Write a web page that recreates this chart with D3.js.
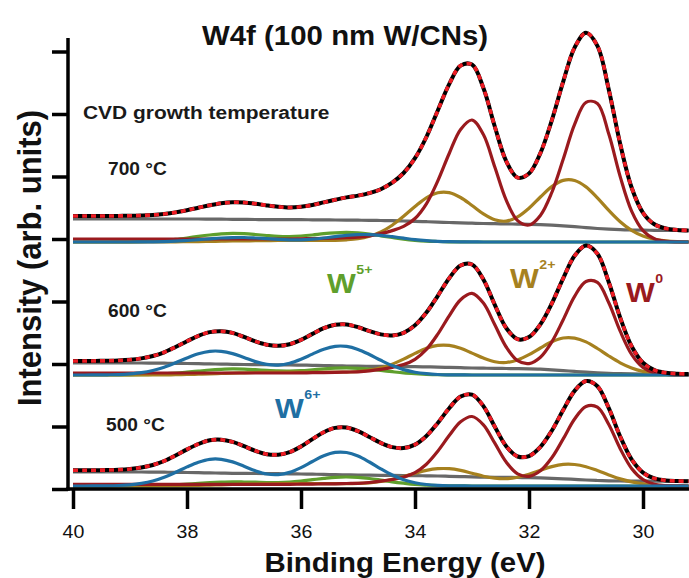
<!DOCTYPE html>
<html>
<head>
<meta charset="utf-8">
<script src="https://cdn.jsdelivr.net/npm/d3@7/dist/d3.min.js"></script>
<style>
  body { margin: 0; background: #fff; }
  svg { display: block; font-family: "Liberation Sans", Arial, sans-serif; }
</style>
</head>
<body>
<svg id="chart" width="689" height="578"></svg>
<script>
// Binding energy grid (eV), 0.2 eV steps
const energy = [40.0, 39.8, 39.6, 39.4, 39.2, 39.0, 38.8, 38.6, 38.4, 38.2,
  38.0, 37.8, 37.6, 37.4, 37.2, 37.0, 36.8, 36.6, 36.4, 36.2,
  36.0, 35.8, 35.6, 35.4, 35.2, 35.0, 34.8, 34.6, 34.4, 34.2,
  34.0, 33.8, 33.6, 33.4, 33.2, 33.0, 32.8, 32.6, 32.4, 32.2,
  32.0, 31.8, 31.6, 31.4, 31.2, 31.0, 30.8, 30.6, 30.4, 30.2,
  30.0, 29.8, 29.6, 29.4, 29.2];

const xTicks = [40, 38, 36, 34, 32, 30];
const yTicks = [0, 62.5, 125, 187.5, 250, 312.5, 375, 437.5];

const temperatures = ["700 °C", "600 °C", "500 °C"];
const stackOffsets = [247, 114, 3];

// ---- 700 °C ----
const int700 = [26.0, 26.0, 26.0, 26.0, 26.1, 26.2, 26.5, 27.0, 28.0, 29.6,
  31.8, 34.3, 36.7, 38.7, 39.7, 39.5, 38.3, 36.6, 35.2, 34.5,
  35.2, 37.0, 39.6, 42.2, 44.6, 46.4, 48.9, 52.8, 59.3, 69.0,
  83.8, 105.0, 131.5, 157.9, 176.4, 177.4, 154.0, 115.5, 80.9, 64.4,
  68.5, 88.9, 121.7, 160.4, 194.4, 209.2, 196.1, 152.3, 98.0, 54.5,
  29.2, 17.7, 13.5, 12.1, 11.6];
const bg700 = [23, 23, 23, 23, 23, 23, 23, 23, 23, 23,
  23, 23.0, 22.9, 22.8, 22.7, 22.6, 22.5, 22.4, 22.4, 22.3,
  22.3, 22.2, 22.1, 22.0, 21.9, 21.8, 21.7, 21.5, 21.3, 21.0,
  20.7, 20.3, 19.9, 19.5, 19.1, 18.8, 18.5, 18.3, 18.1, 17.9,
  17.7, 17.3, 16.8, 16.1, 15.3, 14.4, 13.5, 12.8, 12.3, 12.0,
  11.8, 11.7, 11.6, 11.6, 11.5];
const w0_700 = [3, 3, 3, 3, 3, 3, 3, 3, 3, 3,
  3, 3, 3, 3, 3, 3, 3, 3, 3, 3,
  3.2, 3.4, 3.6, 3.9, 4.3, 4.8, 6.1, 8.4, 11.4, 15.6,
  23.5, 38.2, 61.1, 88.5, 112.6, 122.0, 107.4, 75.0, 41.9, 21.4,
  17.0, 26.6, 49.5, 82.7, 117.6, 139.7, 138.5, 107.9, 65.4, 30.9,
  11.4, 3.2, 0.7, 0.1, 0];
const w2_700 = [0, 0, 0, 0, 0, 0, 0, 0, 0, 0.2,
  0.3, 0.4, 0.6, 0.8, 1.0, 1.1, 1.3, 1.4, 1.5, 1.5,
  1.5, 1.5, 1.6, 1.7, 2.2, 3.3, 5.8, 10.1, 16.8, 25.7,
  35.5, 44.2, 49.3, 49.4, 44.5, 36.5, 28.1, 22.2, 20.9, 25.1,
  33.8, 45.0, 55.4, 61.6, 61.5, 55.1, 44.1, 31.6, 20.3, 11.6,
  6.0, 2.8, 1.2, 0.4, 0.1];
const w5_700 = [0, 0, 0, 0, 0.1, 0.2, 0.4, 0.8, 1.6, 2.6,
  4.0, 5.6, 7.0, 8.1, 8.6, 8.3, 7.5, 6.5, 5.7, 5.5,
  6.0, 7.0, 8.3, 9.2, 9.6, 9.1, 7.9, 6.2, 4.5, 2.9,
  1.7, 0.9, 0.5, 0.2, 0.1, 0, 0, 0, 0, 0,
  0, 0, 0, 0, 0, 0, 0, 0, 0, 0,
  0, 0, 0, 0, 0];
const w6_700 = [0, 0, 0, 0, 0, 0, 0.1, 0.2, 0.4, 0.8,
  1.5, 2.3, 3.2, 4.0, 4.4, 4.5, 4.0, 3.3, 2.6, 2.2,
  2.2, 2.9, 4.0, 5.4, 6.6, 7.4, 7.4, 6.6, 5.3, 3.8,
  2.4, 1.4, 0.7, 0.3, 0.1, 0.1, 0, 0, 0, 0,
  0, 0, 0, 0, 0, 0, 0, 0, 0, 0,
  0, 0, 0, 0, 0];

// ---- 600 °C ----
const int600 = [14.0, 14.0, 14.1, 14.2, 14.5, 15.2, 16.6, 19.0, 22.7, 28.0,
  33.8, 39.2, 42.9, 43.8, 42.1, 38.1, 33.6, 30.3, 29.2, 30.8,
  35.1, 41.1, 46.8, 50.2, 50.6, 47.8, 43.9, 40.6, 39.6, 42.2,
  49.7, 62.4, 79.2, 96.8, 109.5, 110.5, 95.6, 70.1, 47.0, 35.8,
  37.9, 50.6, 71.5, 96.7, 119.2, 129.4, 121.3, 92.8, 57.3, 28.8,
  12.2, 4.8, 2.2, 1.3, 1.1];
const bg600 = [12, 12, 12, 12, 12, 12, 12, 11.9, 11.8, 11.7,
  11.5, 11.3, 11.1, 10.9, 10.7, 10.5, 10.4, 10.3, 10.2, 10.1,
  9.9, 9.7, 9.5, 9.2, 9.0, 8.8, 8.7, 8.6, 8.5, 8.4,
  8.3, 8.1, 7.9, 7.6, 7.3, 7.0, 6.8, 6.6, 6.5, 6.4,
  6.2, 5.8, 5.2, 4.4, 3.6, 2.8, 2.1, 1.6, 1.3, 1.1,
  1, 1, 1, 1, 1];
const w0_600 = [2, 2, 2, 2, 2, 2, 2, 2, 2, 2,
  2, 2, 2, 2, 2, 2, 2, 2, 2, 2,
  2.1, 2.3, 2.4, 2.6, 2.9, 3.2, 4.1, 5.6, 7.6, 10.4,
  15.7, 25.6, 40.9, 59.2, 75.3, 81.6, 71.9, 50.2, 28.0, 14.3,
  11.4, 17.8, 33.1, 55.3, 78.7, 93.5, 92.7, 72.2, 43.8, 20.7,
  7.6, 2.1, 0.5, 0.1, 0];
const w2_600 = [0, 0, 0, 0, 0, 0, 0, 0, 0, 0.3,
  0.5, 0.8, 1.1, 1.5, 1.9, 2.2, 2.5, 2.8, 3.0, 3.0,
  3.0, 3.0, 3.0, 2.9, 3.0, 3.5, 4.8, 7.1, 10.8, 15.9,
  21.6, 26.7, 29.6, 29.6, 26.7, 21.9, 16.9, 13.3, 12.5, 15.1,
  20.3, 27.0, 33.2, 37.0, 36.9, 33.1, 26.5, 19.0, 12.2, 7.0,
  3.6, 1.7, 0.7, 0.2, 0.1];
const w5_600 = [0, 0, 0, 0, 0.1, 0.1, 0.3, 0.6, 1.1, 1.8,
  2.8, 3.9, 5.0, 5.7, 6.1, 5.9, 5.3, 4.6, 4.1, 4.0,
  4.4, 5.2, 6.1, 6.8, 7.1, 6.7, 5.8, 4.6, 3.3, 2.1,
  1.3, 0.7, 0.3, 0.2, 0.1, 0, 0, 0, 0, 0,
  0, 0, 0, 0, 0, 0, 0, 0, 0, 0,
  0, 0, 0, 0, 0];
const w6_600 = [0, 0, 0.1, 0.2, 0.4, 1.1, 2.3, 4.5, 7.8, 12.2,
  17.0, 21.2, 23.7, 23.7, 21.4, 17.5, 13.4, 10.6, 9.9, 11.7,
  15.7, 20.9, 25.8, 28.7, 28.6, 25.6, 20.5, 14.7, 9.4, 5.4,
  2.8, 1.3, 0.5, 0.2, 0.1, 0, 0, 0, 0, 0,
  0, 0, 0, 0, 0, 0, 0, 0, 0, 0,
  0, 0, 0, 0, 0];

// ---- 500 °C ----
const int500 = [15.7, 15.7, 15.8, 15.9, 16.2, 17.0, 18.5, 21.0, 25.0, 30.5,
  36.6, 42.0, 45.7, 46.3, 44.1, 39.8, 35.2, 31.8, 31.3, 33.9,
  39.6, 46.9, 53.8, 58.1, 58.4, 54.8, 49.0, 43.1, 38.9, 38.0,
  41.4, 50.0, 63.1, 77.8, 89.4, 91.4, 79.9, 59.3, 39.8, 29.5,
  29.9, 39.1, 55.3, 75.9, 95.1, 104.9, 99.8, 77.8, 49.4, 26.6,
  13.4, 7.6, 5.6, 5.0, 4.8];
const bg500 = [14, 14, 14, 14, 14, 14, 14, 13.9, 13.8, 13.7,
  13.5, 13.3, 13.1, 12.9, 12.7, 12.6, 12.5, 12.4, 12.3, 12.2,
  12.0, 11.8, 11.6, 11.3, 11.1, 10.9, 10.8, 10.7, 10.6, 10.5,
  10.4, 10.2, 10.0, 9.7, 9.4, 9.1, 8.9, 8.7, 8.6, 8.5,
  8.4, 8.1, 7.7, 7.2, 6.6, 6.0, 5.5, 5.2, 5.0, 4.9,
  4.8, 4.8, 4.8, 4.8, 4.8];
const w0_500 = [1.7, 1.7, 1.7, 1.7, 1.7, 1.7, 1.7, 1.7, 1.7, 1.7,
  1.7, 1.7, 1.7, 1.7, 1.7, 1.7, 1.7, 1.7, 1.7, 1.7,
  1.8, 1.9, 2.1, 2.2, 2.5, 2.7, 3.5, 4.8, 6.5, 8.9,
  13.4, 21.8, 34.8, 50.4, 64.2, 69.5, 61.2, 42.8, 23.9, 12.2,
  9.7, 15.2, 28.2, 47.1, 67.0, 79.6, 78.9, 61.5, 37.3, 17.6,
  6.5, 1.8, 0.4, 0.1, 0];
const w2_500 = [0, 0, 0, 0, 0, 0, 0, 0, 0, 0.2,
  0.4, 0.6, 0.9, 1.2, 1.5, 1.8, 2.0, 2.2, 2.4, 2.4,
  2.4, 2.4, 2.3, 2.3, 2.3, 2.6, 3.2, 4.5, 6.6, 9.5,
  12.7, 15.6, 17.3, 17.3, 15.6, 12.8, 9.8, 7.8, 7.3, 8.8,
  11.8, 15.8, 19.4, 21.6, 21.5, 19.3, 15.4, 11.1, 7.1, 4.1,
  2.1, 1.0, 0.4, 0.1, 0];
const w5_500 = [0, 0, 0, 0, 0, 0.1, 0.2, 0.4, 0.7, 1.2,
  1.9, 2.6, 3.3, 3.8, 4.1, 4.0, 3.8, 3.5, 3.5, 4.0,
  5.0, 6.3, 7.6, 8.7, 9.0, 8.6, 7.5, 5.9, 4.2, 2.8,
  1.6, 0.9, 0.4, 0.2, 0.1, 0, 0, 0, 0, 0,
  0, 0, 0, 0, 0, 0, 0, 0, 0, 0,
  0, 0, 0, 0, 0];
const w6_500 = [0, 0, 0.1, 0.2, 0.5, 1.2, 2.6, 5.0, 8.8, 13.7,
  19.1, 23.8, 26.7, 26.7, 24.1, 19.7, 15.2, 12.0, 11.4, 13.6,
  18.4, 24.5, 30.2, 33.6, 33.5, 30.0, 24.0, 17.2, 11.0, 6.3,
  3.3, 1.5, 0.6, 0.2, 0.1, 0, 0, 0, 0, 0,
  0, 0, 0, 0, 0, 0, 0, 0, 0, 0,
  0, 0, 0, 0, 0];

// Component styles, drawn bottom to top
const components = [
  { key: "bg", color: "#686868" },
  { key: "w5", color: "#5f9f2c" },
  { key: "w2", color: "#a6811f" },
  { key: "w0", color: "#9a1a1e" },
  { key: "w6", color: "#1f6fa3" }
];

const spectra = [
  { bg: bg700, w0: w0_700, w2: w2_700, w5: w5_700, w6: w6_700, data: int700 },
  { bg: bg600, w0: w0_600, w2: w2_600, w5: w5_600, w6: w6_600, data: int600 },
  { bg: bg500, w0: w0_500, w2: w2_500, w5: w5_500, w6: w6_500, data: int500 }
].map((s, i) => Object.assign(s, { offset: stackOffsets[i], label: temperatures[i] }));

const svg = d3.select("#chart");
const SX = 1.09; // horizontal glyph stretch of the figure lettering

const x = d3.scaleLinear().domain([40, 29.2]).range([73, 688.6]);
const y = d3.scaleLinear().domain([0, 449]).range([489, 40]);

// Curves
const plot = svg.append("g");
spectra.forEach(s => {
  const line = d3.line()
    .x((d, i) => x(energy[i]))
    .y(d => y(d + s.offset))
    .curve(d3.curveCatmullRom.alpha(0.5));
  const g = plot.append("g");
  components.forEach(c => {
    g.append("path")
      .attr("d", line(s[c.key]))
      .attr("fill", "none")
      .attr("stroke", c.color)
      .attr("stroke-width", 3.2)
      .attr("stroke-linejoin", "round");
  });
  // measured spectrum
  g.append("path")
    .attr("d", line(s.data))
    .attr("fill", "none")
    .attr("stroke", "#000")
    .attr("stroke-width", 4)
    .attr("stroke-linejoin", "round");
  // envelope of the fit
  g.append("path")
    .attr("d", line(s.data))
    .attr("fill", "none")
    .attr("stroke", "#ee1c24")
    .attr("stroke-width", 3.6)
    .attr("stroke-dasharray", "5 4");
});

// Axes
const yAxis = svg.append("g")
  .attr("transform", "translate(68,0)")
  .call(d3.axisLeft(y).tickValues(yTicks).tickSize(16).tickSizeOuter(0).tickFormat(""));
yAxis.select(".domain").remove();
yAxis.selectAll(".tick line").attr("stroke", "#000").attr("stroke-width", 3.5);

const xAxis = svg.append("g")
  .attr("transform", "translate(0,489)")
  .call(d3.axisBottom(x).tickValues(xTicks).tickSize(20).tickSizeOuter(0).tickPadding(16).tickFormat(d3.format("d")));
xAxis.select(".domain").remove();
xAxis.selectAll(".tick line").attr("stroke", "#000").attr("stroke-width", 3.5);
xAxis.selectAll(".tick text")
  .attr("fill", "#111")
  .style("font-size", "18px")
  .style("font-family", "'Liberation Sans', Arial, sans-serif")
  .attr("transform", `scale(${SX},1)`);

svg.append("line").attr("x1", 68).attr("x2", 68).attr("y1", 38).attr("y2", 490.75)
  .attr("stroke", "#000").attr("stroke-width", 3.5);
svg.append("line").attr("x1", 66.25).attr("x2", 689).attr("y1", 489).attr("y2", 489)
  .attr("stroke", "#000").attr("stroke-width", 3.5);

// Text helper
function label(txt, px, py, opts) {
  return svg.append("text")
    .attr("transform", `translate(${px},${py}) scale(${SX},1)`)
    .attr("text-anchor", opts.anchor || "start")
    .attr("font-size", opts.size)
    .attr("font-weight", opts.weight || "normal")
    .attr("fill", opts.color || "#111")
    .text(txt);
}

label("W4f (100 nm W/CNs)", 345, 45, { size: 27, weight: "bold", anchor: "middle" });
label("Binding Energy (eV)", 405, 572, { size: 27, weight: "bold", anchor: "middle" });
svg.append("text")
  .attr("transform", `translate(41,258) scale(${SX},1) rotate(-90)`)
  .attr("text-anchor", "middle")
  .attr("font-size", 31)
  .attr("font-weight", "bold")
  .attr("fill", "#111")
  .text("Intensity (arb. units)");

label("CVD growth temperature", 83, 119, { size: 19.2, weight: "bold", color: "#1a1a1a" });
const tempPos = [[108, 175], [108, 317], [106, 431]];
spectra.forEach((s, i) => label(s.label, tempPos[i][0], tempPos[i][1], { size: 17.6, weight: "bold", color: "#1a1a1a" }));

// Oxidation-state labels
function stateLabel(sup, px, py, color) {
  const t = svg.append("text")
    .attr("transform", `translate(${px},${py}) scale(${SX},1)`)
    .attr("font-weight", "bold")
    .attr("fill", color);
  t.append("tspan").attr("font-size", 28).text("W");
  t.append("tspan").attr("font-size", 13).attr("dy", -19).attr("dx", 0.5).text(sup);
}
stateLabel("5+", 327, 293, "#5f9f2c");
stateLabel("2+", 510, 288, "#a6811f");
stateLabel("0", 626, 302, "#9a1a1e");
stateLabel("6+", 275, 418, "#1f6fa3");
</script>
</body>
</html>
